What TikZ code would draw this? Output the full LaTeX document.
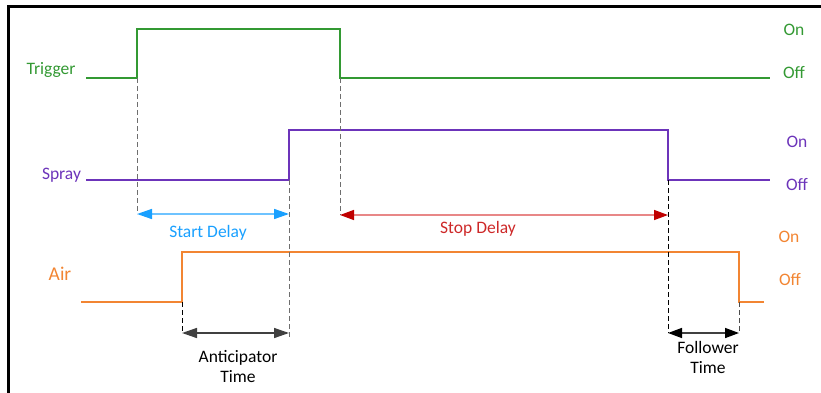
\documentclass[tikz,border=0pt]{standalone}
\usepackage{fontspec}
\setmainfont{Carlito}
\usetikzlibrary{arrows.meta}
\definecolor{tgreen}{RGB}{51,153,51}
\definecolor{spurple}{RGB}{108,52,186}
\definecolor{aorange}{RGB}{242,133,50}
\definecolor{sblue}{RGB}{25,160,255}
\definecolor{sbluel}{RGB}{110,195,255}
\definecolor{sred}{RGB}{192,0,0}
\definecolor{sredl}{RGB}{232,135,135}
\definecolor{sredt}{RGB}{205,40,40}
\definecolor{guidegray}{RGB}{110,110,110}
\begin{document}
\begin{tikzpicture}[x=1pt,y=-1pt,
  sig/.style={line width=2pt},
  guide/.style={dashed,line width=1pt,dash pattern=on 5pt off 3pt},
  lbl/.style={inner sep=0pt,anchor=base,font=\fontsize{17.5}{21}\selectfont},
  dim/.style={line width=1.5pt,{Triangle[length=15pt,width=10pt]}-{Triangle[length=15pt,width=10pt]}},
]
\useasboundingbox (0,0) rectangle (821,393);
% frame (top and left edges visible)
\draw[line width=2.6pt] (8.7,393) -- (8.7,6.3) -- (821,6.3);

% Trigger
\coordinate (t0) at (86,78);  \coordinate (t1) at (137,78);
\coordinate (t2) at (137,29); \coordinate (t3) at (340,29);
\coordinate (t4) at (340,78); \coordinate (t5) at (770,78);
\draw[sig,tgreen,line join=miter] (t0) -- (t1) -- (t2) -- (t3) -- (t4) -- (t5);
\node[lbl,text=tgreen] (ltrig) at (51,75) {Trigger};
\node[lbl,text=tgreen] (ton) at (794,36) {On};
\node[lbl,text=tgreen] (toff) at (794,79) {Off};

% Spray
\coordinate (s0) at (86,180);  \coordinate (s1) at (289,180);
\coordinate (s2) at (289,130); \coordinate (s3) at (668,130);
\coordinate (s4) at (668,180); \coordinate (s5) at (770,180);
\draw[sig,spurple,line join=miter] (s0) -- (s1) -- (s2) -- (s3) -- (s4) -- (s5);
\node[lbl,text=spurple] (lspray) at (61.5,179) {Spray};
\node[lbl,text=spurple] (son) at (797,147) {On};
\node[lbl,text=spurple] (soff) at (797,190) {Off};

% Air
\coordinate (a0) at (81,302);  \coordinate (a1) at (182,302);
\coordinate (a2) at (182,252); \coordinate (a3) at (739,252);
\coordinate (a4) at (739,302); \coordinate (a5) at (764,302);
\draw[sig,aorange,line join=miter] (a0) -- (a1) -- (a2) -- (a3) -- (a4) -- (a5);
\node[lbl,text=aorange,font=\fontsize{19.5}{23}\selectfont] (lair) at (60,280) {Air};
\node[lbl,text=aorange] (aon) at (789,242) {On};
\node[lbl,text=aorange] (aoff) at (790,285) {Off};

% dimension end points
\coordinate (sdl) at (137,214); \coordinate (sdr) at (289,214);
\coordinate (pdl) at (340,215); \coordinate (pdr) at (668,215);
\coordinate (adl) at (182,333); \coordinate (adr) at (289,333);
\coordinate (fdl) at (668,333); \coordinate (fdr) at (739,333);
\coordinate (g289) at (289,337);

% guide lines
\draw[guide,guidegray] (t1) -- (sdl);
\draw[guide,guidegray] (t4) -- (pdl);
\draw[guide,guidegray] (s1) -- (g289);
\draw[guide,black] (s4) -- (fdl);
\draw[guide,black] (a1) -- (adl);
\draw[guide,guidegray!70!black] (a4) -- (fdr);

% dimension arrows
\draw[dim,draw=sbluel,fill=sblue,{Triangle[length=15pt,width=10pt,sblue]}-{Triangle[length=15pt,width=10pt,sblue]}] (sdl) -- (sdr);
\node[lbl,text=sblue] (lstart) at (208,237) {Start Delay};
\draw[dim,draw=sredl,{Triangle[length=14pt,width=10pt,sred]}-{Triangle[length=14pt,width=10pt,sred]}] (pdl) -- (pdr);
\node[lbl,text=sredt] (lstop) at (478,233) {Stop Delay};
\draw[dim,draw=black!75] (adl) -- (adr);
\node[lbl,align=center] (lanti) at (238,362) {Anticipator};
\node[lbl] (lantit) at (238,382) {Time};
\draw[dim,draw=black!75,{Triangle[length=14pt,width=10pt,black]}-{Triangle[length=14pt,width=10pt,black]}] (fdl) -- (fdr);
\node[lbl] (lfol) at (708,353) {Follower};
\node[lbl] (lfolt) at (708,373) {Time};
\end{tikzpicture}
\end{document}
